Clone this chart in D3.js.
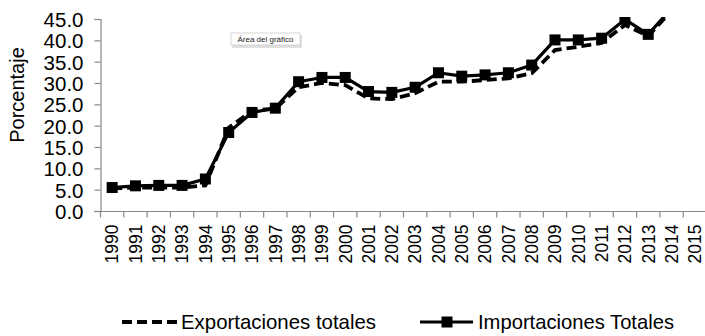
<!DOCTYPE html>
<html><head><meta charset="utf-8">
<script src="https://cdn.jsdelivr.net/npm/d3@7"></script>
<style>body{margin:0;background:#fff}svg{display:block}text{font-family:"Liberation Sans",Arial,sans-serif}</style>
</head><body>
<svg id="c" width="705" height="336"></svg>
<script>
const years = ["1990","1991","1992","1993","1994","1995","1996","1997","1998","1999","2000","2001","2002","2003","2004","2005","2006","2007","2008","2009","2010","2011","2012","2013","2014","2015"];
const exportaciones = [5.3,5.5,5.5,5.5,6.0,19.5,23.5,24.0,29.0,30.0,29.5,26.4,26.2,27.6,30.3,30.3,30.7,31.1,32.3,37.7,38.5,39.4,43.6,41.0,47.0];
const importaciones = [5.5,5.9,6.0,6.0,7.5,18.4,23.1,24.1,30.3,31.3,31.3,28.0,27.8,29.0,32.4,31.6,31.9,32.4,34.2,40.1,40.1,40.5,44.9,41.4,47.5];
const yTicks = [0,5,10,15,20,25,30,35,40,45];

const svg = d3.select("#c");
const x = d3.scaleBand().domain(years).range([100.5, 706.5]).padding(0);
const y = d3.scaleLinear().domain([0,45]).range([211, 19]);

svg.append("defs").append("clipPath").attr("id","clip")
  .append("rect").attr("x",95).attr("y",17).attr("width",620).attr("height",200);

// y axis
const ya = svg.append("g").attr("transform","translate(100.5,0)")
  .call(d3.axisLeft(y).tickValues(yTicks).tickFormat(d3.format(".1f")).tickSizeOuter(0).tickSize(6).tickPadding(11));
ya.select(".domain").attr("stroke","#888").attr("stroke-width",1.2);
ya.selectAll(".tick line").attr("stroke","#888").attr("stroke-width",1.2);
ya.selectAll(".tick text").attr("fill","#000").style("font-size","20.5px").attr("dy","0.36em");

// x axis
const xa = svg.append("g").attr("transform","translate(0,211.5)")
  .call(d3.axisBottom(x).tickSize(0).tickSizeOuter(0));
xa.select(".domain").attr("stroke","#888").attr("stroke-width",1.2)
  .attr("d","M94,0H706.5");
xa.selectAll(".tick text").attr("fill","#000").style("font-size","17.5px")
  .attr("transform","rotate(-90)").attr("text-anchor","end")
  .attr("x",-13).attr("y",0).attr("dy","0.36em");
xa.selectAll(".bt").data(years.concat(["end"])).enter().append("line")
  .attr("x1",(d,i)=>100.5+i*x.bandwidth()).attr("x2",(d,i)=>100.5+i*x.bandwidth())
  .attr("y1",0).attr("y2",6).attr("stroke","#888").attr("stroke-width",1.2);

// y label
svg.append("text").attr("transform","translate(24,95) rotate(-90)")
  .attr("text-anchor","middle").style("font-size","20px").text("Porcentaje");

const cx = (d,i)=>x(years[i])+x.bandwidth()/2;
const line = d3.line().x(cx).y(d=>y(d));
const g = svg.append("g").attr("clip-path","url(#clip)");

g.append("path").datum(importaciones).attr("d",line).attr("fill","none")
  .attr("stroke","#000").attr("stroke-width",3.2).attr("stroke-linejoin","round");
g.selectAll(".m").data(importaciones.slice(0,24)).enter().append("rect")
  .attr("x",(d,i)=>cx(d,i)-5.5).attr("y",d=>y(d)-5.5).attr("width",11).attr("height",11).attr("fill","#000");
g.append("path").datum(exportaciones).attr("d",line).attr("fill","none")
  .attr("stroke","#000").attr("stroke-width",3.8).attr("stroke-dasharray","10,5");

// tooltip
const tt = svg.append("g").attr("transform","translate(231,33)");
tt.append("rect").attr("x",1).attr("y",2).attr("width",70).attr("height",13).attr("fill","#ccc").attr("opacity",0.6);
tt.append("rect").attr("width",69).attr("height",12).attr("fill","#fff").attr("stroke","#bbb").attr("stroke-width",0.6);
tt.append("text").attr("x",34.5).attr("y",9).attr("text-anchor","middle").style("font-size","8px").attr("fill","#222").text("Área del gráfico");

// legend
const lg = svg.append("g");
lg.append("line").attr("x1",122).attr("x2",177).attr("y1",322).attr("y2",322)
  .attr("stroke","#000").attr("stroke-width",3.8).attr("stroke-dasharray","10,5");
lg.append("text").attr("x",181).attr("y",322).attr("dy","0.36em").style("font-size","20.4px").text("Exportaciones totales");
lg.append("line").attr("x1",420).attr("x2",473).attr("y1",322).attr("y2",322)
  .attr("stroke","#000").attr("stroke-width",3.2);
lg.append("rect").attr("x",441.5).attr("y",316.5).attr("width",11).attr("height",11).attr("fill","#000");
lg.append("text").attr("x",478).attr("y",322).attr("dy","0.36em").style("font-size","20.2px").text("Importaciones Totales");
</script>
</body></html>
